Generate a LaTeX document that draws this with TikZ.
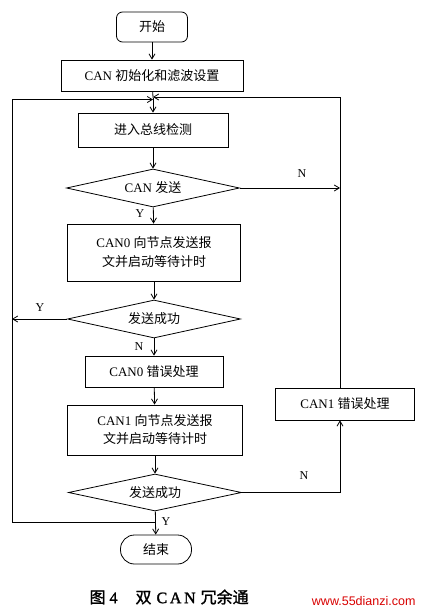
\documentclass[tikz,border=0pt]{standalone}
\usepackage{fontspec}
\setmainfont{Liberation Serif}
\newfontfamily\cjk{Noto Sans CJK SC}
\newfontfamily\cjkb[FakeBold=1.5]{Noto Sans CJK SC}
\newfontfamily\serifb[FakeBold=1.5]{Liberation Serif}
\newfontfamily\wmfont{Liberation Sans}
\usetikzlibrary{shapes.geometric,arrows.meta}
\tikzset{
  every node/.style={font=\fontsize{13}{17}\selectfont},
  boxnode/.style={draw, line width=0.8pt, inner sep=0pt, align=center},
  termnode/.style={boxnode, rounded corners=6pt},
  decnode/.style={draw, line width=0.8pt, diamond, shape aspect=4.55, inner sep=0pt, minimum width=173pt, minimum height=38pt},
  arr/.style={line width=0.8pt, -{Straight Barb[length=5pt,width=6pt]}},
  ln/.style={line width=0.8pt},
  lbl/.style={font=\fontsize{12}{14}\selectfont}
}
\begin{document}
\begin{tikzpicture}[x=1pt,y=-1pt]
\useasboundingbox (0,0) rectangle (423,613);
\fill[white] (0,0) rectangle (423,613);
\node[termnode, minimum width=71pt, minimum height=30pt] (start) at (152,27) {\cjk 开始};
\node[boxnode, minimum width=182pt, minimum height=31pt] (init) at (152,75.5) {CAN {\cjk 初始化和滤波设置}};
\coordinate (merge) at (153,98);
\node[boxnode, minimum width=150pt, minimum height=34pt] (detect) at (153,130) {\cjk 进入总线检测};
\node[decnode] (d1) at (153,188) {CAN {\cjk 发送}};
\node[boxnode, minimum width=173pt, minimum height=57pt] (can0) at (154,252.5) {CAN0 {\cjk 向节点发送报}\\[2pt]{\cjk 文并启动等待计时}};
\node[decnode] (d2) at (154,319) {\cjk 发送成功};
\node[boxnode, minimum width=138pt, minimum height=31pt] (err0) at (154,371.5) {CAN0 {\cjk 错误处理}};
\node[boxnode, minimum width=175pt, minimum height=50pt] (can1) at (155,430) {CAN1 {\cjk 向节点发送报}\\[1pt]{\cjk 文并启动等待计时}};
\node[boxnode, minimum width=139pt, minimum height=32pt] (err1) at (345,404) {CAN1 {\cjk 错误处理}};
\node[decnode, minimum height=37pt] (d3) at (155,492.5) {\cjk 发送成功};
\node[termnode, rounded corners=14pt, minimum width=71pt, minimum height=29pt] (end) at (156,549.5) {\cjk 结束};
\coordinate (rx) at (340,97);
\coordinate (yj) at (155,522);
\coordinate (lb) at (12,522);
\coordinate (lt) at (12,99.5);
\coordinate (rn1) at (340,188);
\coordinate (ly) at (12,319);
\coordinate (rn3) at (340,492.5);
% main flow
\draw[arr] (start) -- (init);
\draw[ln] (init) -- (merge);
\draw[arr] (merge) -- (detect);
\draw[arr] (detect) -- (d1);
\draw[arr] (d1) -- (can0);
\draw[arr] (can0) -- (d2);
\draw[arr] (d2) -- (err0);
\draw[arr] (err0) -- (can1);
\draw[arr] (can1) -- (d3);
\draw[arr] (d3) -- (end);
% loops
\draw[arr] (d1.east) -- (rn1);
\draw[arr] (err1.north -| rx) -- (rx) -- (rx -| merge);
\draw[arr] (yj) -- (lb) -- (lt) -- (lt -| merge);
\draw[arr] (d2.west) -- (ly);
\draw[arr] (d3.east) -- (rn3) -- (err1.south -| rx);
% labels
\node[lbl] (n1) at (302,174) {N};
\node[lbl] (y1) at (140,214) {Y};
\node[lbl] (y2) at (40,308) {Y};
\node[lbl] (n2) at (139,347) {N};
\node[lbl] (n3) at (304,476) {N};
\node[lbl] (y3) at (166,522) {Y};
% caption
\node[font=\fontsize{16}{18}\selectfont, anchor=west] (cap) at (86,597) {{\cjkb 图} {\serifb 4}\hspace{18pt}{\cjkb 双}\hspace{5pt}{\serifb C\,A\,N}\hspace{5pt}{\cjkb 冗余通}};
\node[font=\wmfont\fontsize{12.5}{14}\selectfont, text=red!85!black, anchor=east] (wm) at (419,601) {www.55dianzi.com};
\end{tikzpicture}
\end{document}
